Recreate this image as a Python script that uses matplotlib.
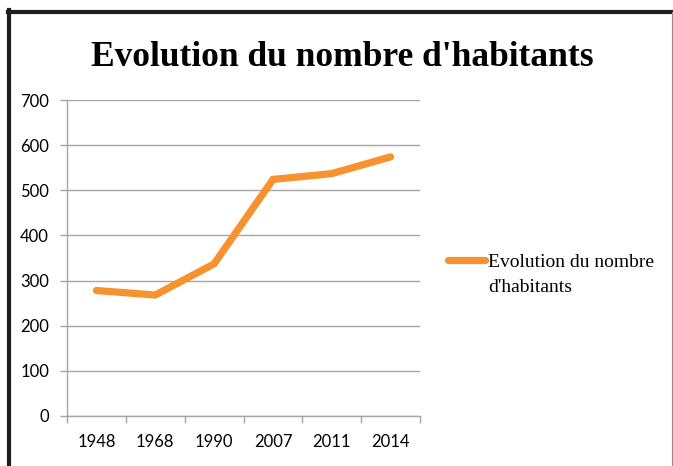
import matplotlib.pyplot as plt
from matplotlib.lines import Line2D

# values
years = ["1948", "1968", "1990", "2007", "2011", "2014"]
habitants = [278, 268, 337, 524, 537, 574]
y_ticks = [0, 100, 200, 300, 400, 500, 600, 700]

TITLE = "Evolution du nombre d'habitants"
SERIES = ["Evolution du nombre", "d'habitants"]
ORANGE = "#F7922F"
GRID = "#a6a6a6"

fig = plt.figure(figsize=(6.73, 4.66), dpi=100)
ax = fig.add_axes([0.0996, 0.1073, 0.5245, 0.6781])

x = list(range(len(years)))
ax.plot(x, habitants, color=ORANGE, lw=5.2, solid_capstyle="round",
        solid_joinstyle="miter", label=SERIES[0])

ax.set_ylim(0, 700)
ax.set_yticks(y_ticks)
ax.set_yticklabels([str(v) for v in y_ticks], family="Lato", fontsize=12)
ax.yaxis.grid(True, color=GRID, lw=1)
ax.set_axisbelow(True)

# category axis: ticks between categories, labels at centres
ax.set_xlim(-0.5, len(years) - 0.5)
ax.set_xticks([i - 0.5 for i in range(len(years) + 1)])
ax.set_xticklabels([])
ax.set_xticks(x, minor=True)
ax.set_xticklabels(years, minor=True, family="Lato", fontsize=12)
ax.tick_params(axis="x", which="major", length=5, color=GRID, width=1)
ax.tick_params(axis="x", which="minor", length=0, pad=13)
ax.tick_params(axis="y", length=5, color=GRID, width=1, pad=8)

for side in ["top", "right"]:
    ax.spines[side].set_visible(False)
for side in ["left", "bottom"]:
    ax.spines[side].set_color(GRID)
    ax.spines[side].set_linewidth(1)

fig.text(0.508, 0.876, TITLE, ha="center", va="center",
         family="Liberation Serif", weight="bold", fontsize=25.5)

# legend: handle sits on the first line, second line wraps underneath
leg = fig.legend(loc="center left", bbox_to_anchor=(0.6655, 1 - 262 / 466),
                 frameon=False, handlelength=1.9, handletextpad=0.15,
                 borderpad=0, borderaxespad=0,
                 prop={"family": "Liberation Serif", "size": 14})
fig.text(488 / 673, 1 - 287 / 466, SERIES[1], ha="left", va="center",
         family="Liberation Serif", fontsize=14)

# screenshot frame
fig.add_artist(Line2D([9 / 673, 9 / 673], [0, 1 - 10 / 466], color="#1e1e1e", lw=3))
fig.add_artist(Line2D([8 / 673, 672 / 673], [1 - 12 / 466, 1 - 12 / 466], color="#1e1e1e", lw=3))
fig.add_artist(Line2D([671.5 / 673, 671.5 / 673], [0, 1 - 12 / 466], color="#8c8c8c", lw=0.8))

fig.savefig("out.png", dpi=100)
